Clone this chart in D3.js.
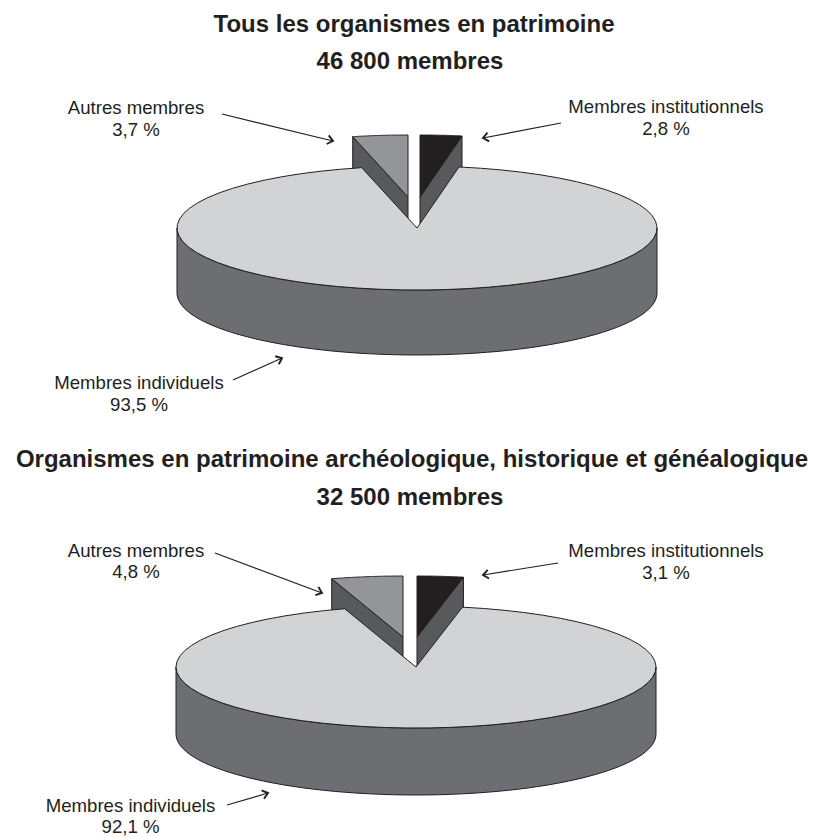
<!DOCTYPE html>
<html><head><meta charset="utf-8">
<script src="https://cdn.jsdelivr.net/npm/d3@7/dist/d3.min.js"></script>
<style>html,body{margin:0;padding:0;background:#fff}svg{display:block}
text{font-family:"Liberation Sans",Arial,sans-serif;fill:#231f20;text-anchor:middle}
.title{font-weight:bold;font-size:24px}.lab{font-size:18.6px}</style></head>
<body><svg id="c" width="815" height="837"></svg>
<script>
const categories = ["Membres institutionnels", "Membres individuels", "Autres membres"];
const titlesA = ["Tous les organismes en patrimoine", "46 800 membres"];
const titlesB = ["Organismes en patrimoine archéologique, historique et généalogique", "32 500 membres"];
const valuesA = [2.8, 93.5, 3.7];
const valuesB = [3.1, 92.1, 4.8];
const colors = ["#231f20", "#d1d3d4", "#939598"];
const sideBody = "#6d6e71", sideWedge = "#58595b", edge = "#231f20";
const fmt = v => String(v).replace(".", ",") + " %";

const svg = d3.select("#c");
const piegen = d3.pie().sort(null);

function drawPie(o){
  const x = d3.scaleLinear().domain([-1,1]).range([o.cx-o.rx, o.cx+o.rx]);
  const y = d3.scaleLinear().domain([-1,1]).range([o.cy-o.ry, o.cy+o.ry]);
  const pt = (t,dx=0,dy=0) => [x(Math.sin(t))+dx, y(-Math.cos(t))+dy];
  const line = d3.line();
  const arcPts = (a,b,dx=0,dy=0) => d3.range(0,65).map(i=>pt(a+(b-a)*i/64,dx,dy));
  const g = svg.append("g");
  const slices = piegen(o.values);
  const stroke = s => s.attr("stroke",edge).attr("stroke-width",1).attr("stroke-linejoin","round");

  [[slices[0],o.offR,"end"],[slices[2],o.offL,"start"]].forEach(([s,off,which])=>{
    const [dx,dy]=off;
    const a=s.startAngle,b=s.endAngle;
    const tEdge = which==="end"?b:a;
    const apex=[x(0)+dx,y(0)+dy], outer=pt(tEdge,dx,dy);
    g.append("path").attr("d",line([apex,outer,[outer[0],outer[1]+o.depth],[apex[0],apex[1]+o.depth]])+"Z")
      .attr("fill",sideWedge).call(stroke);
    g.append("path").attr("d",line([apex,...arcPts(a,b,dx,dy)])+"Z")
      .attr("fill",colors[slices.indexOf(s)]).call(stroke);
  });
  const m = slices[1];
  const lower = arcPts(Math.PI/2,Math.PI*1.5);
  const wall = [...lower, ...lower.slice().reverse().map(p=>[p[0],p[1]+o.depth])];
  g.append("path").attr("d",line(wall)+"Z").attr("fill",sideBody).call(stroke);
  g.append("path").attr("d",line([[x(0),y(0)],...arcPts(m.startAngle,m.endAngle)])+"Z")
    .attr("fill",colors[1]).call(stroke);
}

function arrow(a,b){
  const ang=Math.atan2(b[1]-a[1],b[0]-a[0]), L=7, w=0.68;
  const p=d3.path();
  p.moveTo(a[0],a[1]);p.lineTo(b[0],b[1]);
  const h1=[b[0]-L*Math.cos(ang-w),b[1]-L*Math.sin(ang-w)],h2=[b[0]-L*Math.cos(ang+w),b[1]-L*Math.sin(ang+w)];
  svg.append("path").attr("d",p.toString()).attr("fill","none").attr("stroke",edge).attr("stroke-width",1.2);
  const q=d3.path();q.moveTo(h1[0],h1[1]);q.lineTo(b[0],b[1]);q.lineTo(h2[0],h2[1]);
  svg.append("path").attr("d",q.toString()).attr("fill","none").attr("stroke",edge).attr("stroke-width",1.9);
}
function label(cx,y1,y2,name,val){
  svg.append("text").attr("class","lab").attr("x",cx).attr("y",y1).text(name);
  svg.append("text").attr("class","lab").attr("x",cx).attr("y",y2).text(fmt(val));
}
function title(lines,x1,y1,x2,y2){
  svg.append("text").attr("class","title").attr("x",x1).attr("y",y1).text(lines[0]);
  svg.append("text").attr("class","title").attr("x",x2).attr("y",y2).text(lines[1]);
}

title(titlesA,414,32,410,69);
title(titlesB,412,467,410,505);
drawPie({values:valuesA,cx:417,cy:228,rx:240,ry:62,depth:65,offR:[3,-31],offL:[-9,-31]});
drawPie({values:valuesB,cx:416,cy:667,rx:240,ry:61,depth:67,offR:[1,-30],offL:[-13,-30]});

label(136,114,136,categories[2],valuesA[2]);
label(666,113,135,categories[0],valuesA[0]);
label(139,389,411,categories[1],valuesA[1]);
label(136,557,578,categories[2],valuesB[2]);
label(666,557,579,categories[0],valuesB[0]);
label(130.5,812,833,categories[1],valuesB[1]);

arrow([222,114],[333,141]);
arrow([561,123],[483,138]);
arrow([233,380],[282,358]);
arrow([215,553],[322,593]);
arrow([558,563],[483,575]);
arrow([227,805],[268,793]);
</script></body></html>
